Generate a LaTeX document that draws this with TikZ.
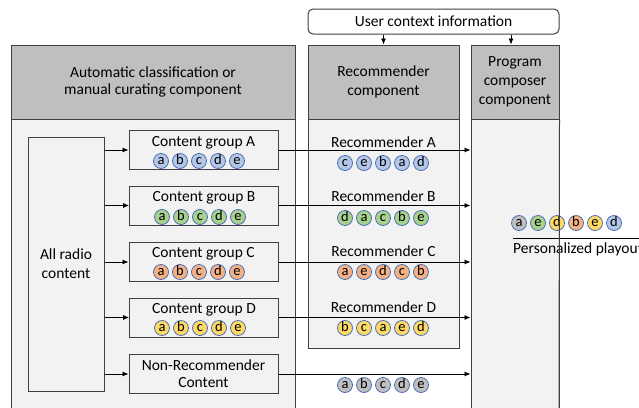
\documentclass[tikz,border=0pt]{standalone}
\usepackage{fontspec}
\setmainfont{Carlito}
\usetikzlibrary{arrows.meta}
\definecolor{hdrgray}{HTML}{BFBFBF}
\definecolor{bodygray}{HTML}{F2F2F2}
\definecolor{edgegray}{HTML}{404040}
\definecolor{dotline}{HTML}{4A6FB5}
\definecolor{dotblue}{HTML}{B4C7E7}
\definecolor{dotgreen}{HTML}{A9D18E}
\definecolor{dotorange}{HTML}{F4B183}
\definecolor{dotyellow}{HTML}{FFD966}
\definecolor{dotgray}{HTML}{BFBFBF}
\tikzset{
  txt/.style={font=\fontsize{15.5}{19}\selectfont, inner sep=0pt, align=center},
  hdr/.style={txt, draw=edgegray, line width=1pt, fill=hdrgray},
  grpbox/.style={draw=edgegray, line width=1pt, fill=bodygray, minimum width=149pt, minimum height=39pt},
  dot/.style={circle, draw=dotline, line width=0.8pt, minimum size=15pt, inner sep=0pt, text height=6.8pt, text depth=0pt, font=\fontsize{14.5}{14.5}\selectfont},
  arr/.style={-{Latex[length=6pt,width=5pt]}, line width=0.8pt, black}
}

\begin{document}
\begin{tikzpicture}[x=1pt, y=-1pt]
\useasboundingbox (0,0) rectangle (639,407);
\draw[edgegray, line width=1pt, fill=bodygray] (11,45) rectangle (295,430);
\node[hdr, font=\fontsize{15.5}{17}\selectfont, minimum width=284pt, minimum height=74pt] (autohdr) at (153,82) {Automatic classification or\\manual curating component};
\draw[edgegray, line width=1pt, fill=bodygray] (308,45) rectangle (459,348);
\node[hdr, minimum width=151pt, minimum height=74pt] (rechdr) at (383.5,82) {Recommender\\component};
\draw[edgegray, line width=1pt, fill=bodygray] (471,45) rectangle (559,430);
\node[hdr, minimum width=88pt, minimum height=74pt] (comphdr) at (515,82) {Program\\composer\\component};
\node[txt, draw=edgegray, line width=1pt, fill=white, rounded corners=5pt, minimum width=251pt, minimum height=25pt] (ctx) at (433.5,21.5) {User context information};
\draw[arr] (ctx.south -| rechdr.north) -- (rechdr.north);
\draw[arr] ([xshift=-4pt]ctx.south -| comphdr.north) -- ([xshift=-4pt]comphdr.north);

\node[txt, draw=edgegray, line width=1pt, fill=bodygray, minimum width=76pt, minimum height=254pt] (allc) at (66,264) {All radio\\content};

\node[grpbox] (grpA) at (203.5,150) {};
\node[txt, anchor=base] (grpAlbl) at (203.5,146) {Content group A};
\foreach \l [count=\i] in {a,b,c,d,e}
  \node[dot, fill=dotblue] (grpA-\i) at ({142+19*\i},161) {\l};
\node[grpbox] (grpB) at (204,205.5) {};
\node[txt, anchor=base] (grpBlbl) at (204,201) {Content group B};
\foreach \l [count=\i] in {a,b,c,d,e}
  \node[dot, fill=dotgreen] (grpB-\i) at ({143+19*\i},217) {\l};
\node[grpbox] (grpC) at (203.5,262) {};
\node[txt, anchor=base] (grpClbl) at (203.5,257) {Content group C};
\foreach \l [count=\i] in {a,b,c,d,e}
  \node[dot, fill=dotorange] (grpC-\i) at ({142+19*\i},272) {\l};
\node[grpbox] (grpD) at (204,317.5) {};
\node[txt, anchor=base] (grpDlbl) at (204,313) {Content group D};
\foreach \l [count=\i] in {a,b,c,d,e}
  \node[dot, fill=dotyellow] (grpD-\i) at ({143+19*\i},328) {\l};
\node[grpbox, txt, font=\fontsize{15.5}{17}\selectfont] (nonrec) at (203.5,374) {Non-Recommender\\Content};

\foreach \g in {grpA,grpB,grpC,grpD,nonrec}
  \draw[arr] (allc.east |- \g.west) -- (\g.west);
\foreach \g in {grpA,grpB,grpC,grpD,nonrec}
  \draw[arr] (\g.east) -- (\g.east -| comphdr.west);

\node[txt, anchor=base] (recAlbl) at (383.5,147) {Recommender A};
\foreach \l [count=\i] in {c,e,b,a,d}
  \node[dot, fill=dotblue] (recA-\i) at ({326+19*\i},163) {\l};
\node[txt, anchor=base] (recBlbl) at (383.5,201) {Recommender B};
\foreach \l [count=\i] in {d,a,c,b,e}
  \node[dot, fill=dotgreen] (recB-\i) at ({326+19*\i},218) {\l};
\node[txt, anchor=base] (recClbl) at (383.5,256) {Recommender C};
\foreach \l [count=\i] in {a,e,d,c,b}
  \node[dot, fill=dotorange] (recC-\i) at ({326+19*\i},272) {\l};
\node[txt, anchor=base] (recDlbl) at (383.5,312) {Recommender D};
\foreach \l [count=\i] in {b,c,a,e,d}
  \node[dot, fill=dotyellow] (recD-\i) at ({326+19*\i},328) {\l};
\foreach \l [count=\i] in {a,b,c,d,e}
  \node[dot, fill=dotgray] (rest-\i) at ({326+19*\i},385) {\l};

\foreach \l/\c [count=\i] in {a/dotgray,e/dotgreen,d/dotyellow,b/dotorange,e/dotyellow,d/dotblue}
  \node[dot, fill=\c] (play-\i) at ({500+19*\i},223) {\l};
\draw[line width=0.8pt] (513,238) -- (650,238);
\node[txt, anchor=base west] (playout) at (513,253) {Personalized playout};
\draw[edgegray, line width=1pt] (comphdr.south east) -- (559,430);
\end{tikzpicture}
\end{document}
